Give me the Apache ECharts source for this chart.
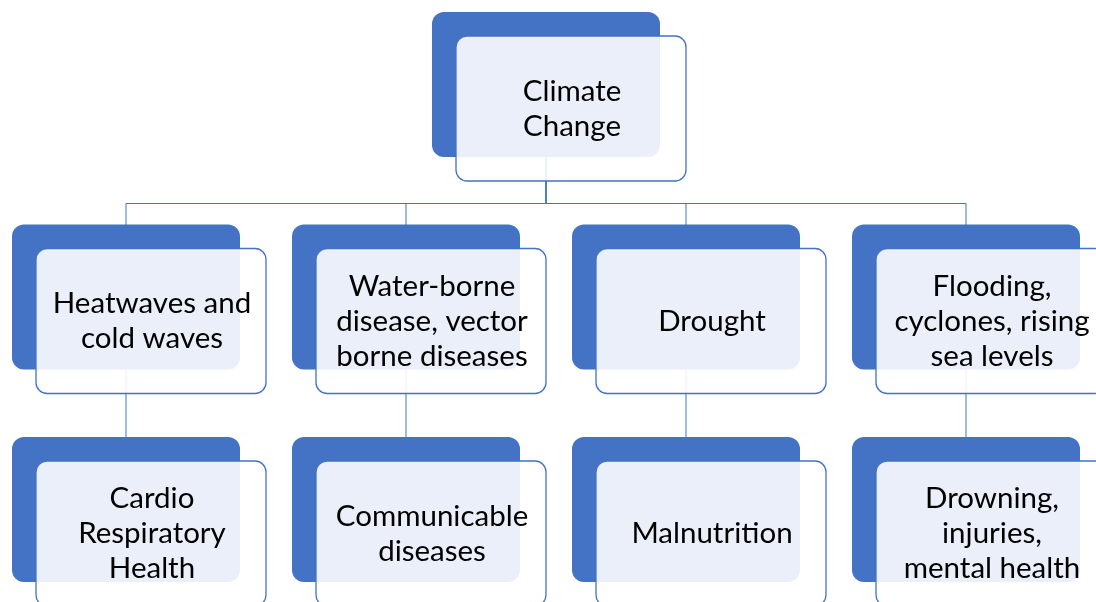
<!DOCTYPE html>
<html>
<head>
<meta charset="utf-8">
<script src="https://cdn.jsdelivr.net/npm/echarts@6/dist/echarts.min.js"></script>
<style>html,body{margin:0;padding:0;background:#fff;}#c{width:1096px;height:602px;}</style>
</head>
<body>
<div id="c"></div>
<script>
// Node labels, grid positions (column, row) and parent index
const labels = [
  'Climate\nChange',
  'Heatwaves and\ncold waves',
  'Water-borne\ndisease, vector\nborne diseases',
  'Drought',
  'Flooding,\ncyclones, rising\nsea levels',
  'Cardio\nRespiratory\nHealth',
  'Communicable\ndiseases',
  'Malnutrition',
  'Drowning,\ninjuries,\nmental health'
];
const cols = [1.5, 0, 1, 2, 3, 0, 1, 2, 3];
const rows = [0, 1, 1, 1, 1, 2, 2, 2, 2];
const parents = [-1, 0, 0, 0, 0, 1, 2, 3, 4];

const nodeData = labels.map((l, i) => ({ value: [cols[i], rows[i]], name: l }));
const edgeData = [];
parents.forEach((p, i) => { if (p >= 0) edgeData.push([cols[p], rows[p], cols[i], rows[i]]); });

const BLUE = '#4472C4';
const DW = 228, DH = 145, FW = 230, FH = 145, OX = 24, OY = 24;

const chart = echarts.init(document.getElementById('c'), null, { renderer: 'canvas' });
chart.setOption({
  animation: false,
  backgroundColor: '#ffffff',
  grid: { left: 126, right: 130, top: 84.5, bottom: 92.5 },
  xAxis: { type: 'value', min: 0, max: 3, show: false },
  yAxis: { type: 'value', min: 0, max: 2, inverse: true, show: false },
  series: [
    {
      type: 'custom',
      z: 1,
      data: edgeData,
      renderItem: function (params, api) {
        const a = api.coord([api.value(0), api.value(1)]);
        const b = api.coord([api.value(2), api.value(3)]);
        const busY = b[1] - DH / 2 - 21;
        return {
          type: 'polyline',
          shape: { points: [[a[0], a[1]], [a[0], busY], [b[0], busY], [b[0], b[1]]] },
          style: { stroke: BLUE, lineWidth: 1, fill: null }
        };
      }
    },
    {
      type: 'custom',
      z: 2,
      data: nodeData,
      renderItem: function (params, api) {
        const p = api.coord([api.value(0), api.value(1)]);
        const dx = p[0] - DW / 2, dy = p[1] - DH / 2;
        const fx = dx + OX, fy = dy + OY;
        return {
          type: 'group',
          children: [
            { type: 'rect', shape: { x: dx, y: dy, width: DW, height: DH, r: 12 }, style: { fill: BLUE } },
            { type: 'rect', shape: { x: fx, y: fy, width: FW, height: FH, r: 11 },
              style: { fill: 'rgba(255,255,255,0.89)', stroke: BLUE, lineWidth: 1.3 } },
            { type: 'text', x: fx + FW / 2 + 1, y: fy + FH / 2,
              style: { text: labels[params.dataIndex], align: 'center', verticalAlign: 'middle',
                       font: '29.5px Lato', lineHeight: 35, fill: '#000' } }
          ]
        };
      }
    }
  ]
});
</script>
</body>
</html>
